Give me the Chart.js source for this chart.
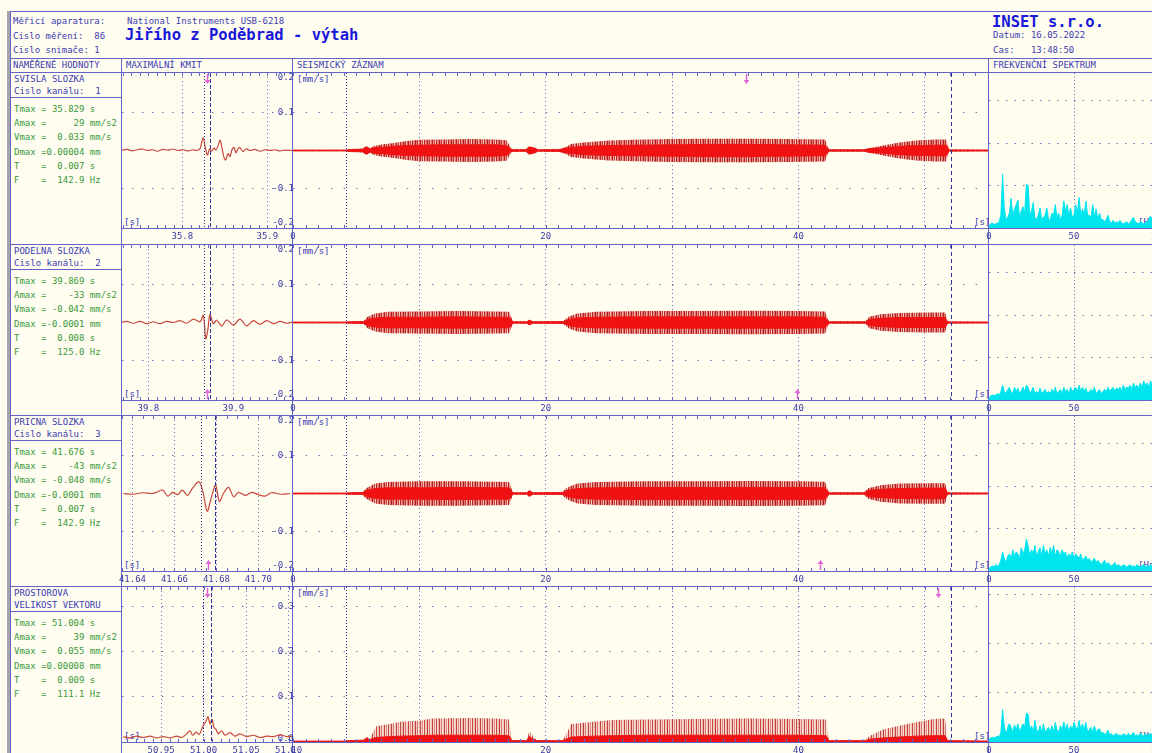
<!DOCTYPE html>
<html>
<head>
<meta charset="utf-8">
<script src="https://cdn.jsdelivr.net/npm/chart.js"></script>
<style>
html, body { margin: 0; padding: 0; background: #fffcf0; overflow: hidden; width: 1152px; height: 753px; }
#page { position: relative; width: 1152px; height: 753px; font-family: "DejaVu Sans Mono", monospace; font-size: 9px; }
.t { position: absolute; white-space: pre; line-height: 10px; color: #3c3cb0; }
.g { color: #3a9a3a; }
.big { font-size: 15.5px; line-height: 18px; font-weight: bold; color: #1818d8; }
.ln { position: absolute; background: #6464c8; }
canvas { position: absolute; }
</style>
</head>
<body>
<div id="page"></div>
<script>
var rowTitles = [['SVISLA SLOZKA', 'Cislo kanálu:  1'], ['PODELNA SLOZKA', 'Cislo kanálu:  2'], ['PRICNA SLOZKA', 'Cislo kanálu:  3'], ['PROSTOROVA', 'VELIKOST VEKTORU']];
var rowValues = [
    ['Tmax = 35.829 s', 'Amax =     29 mm/s2', 'Vmax =  0.033 mm/s', 'Dmax =0.00004 mm', 'T    =  0.007 s', 'F    =  142.9 Hz'],
    ['Tmax = 39.869 s', 'Amax =    -33 mm/s2', 'Vmax = -0.042 mm/s', 'Dmax =-0.0001 mm', 'T    =  0.008 s', 'F    =  125.0 Hz'],
    ['Tmax = 41.676 s', 'Amax =    -43 mm/s2', 'Vmax = -0.048 mm/s', 'Dmax =-0.0001 mm', 'T    =  0.007 s', 'F    =  142.9 Hz'],
    ['Tmax = 51.004 s', 'Amax =     39 mm/s2', 'Vmax =  0.055 mm/s', 'Dmax =0.00008 mm', 'T    =  0.009 s', 'F    =  111.1 Hz']
];
var tmax = [35.829, 39.869, 41.676, 51.004];
var period = [0.007, 0.008, 0.007, 0.009];
var arrowDown = [true, false, false, true];

var kmitMin = [35.729, 39.769, 41.635, 50.904];
var kmitMax = [35.929, 39.969, 41.716, 51.104];
var kmitMinor = [0.01, 0.01, 0.005, 0.01];
var kmitTicks = [[35.8, 35.9], [39.8, 39.9], [41.64, 41.66, 41.68, 41.70], [50.95, 51.00, 51.05, 51.10]];
var kmitTickLabels = [['35.8', '35.9'], ['39.8', '39.9'], ['41.64', '41.66', '41.68', '41.70'], ['50.95', '51.00', '51.05', '51.10']];
var ampTicks = [-0.2, -0.1, 0, 0.1, 0.2];
var ampTickLabels = [['-0.2', ''], '-0.1', '', '0.1', ['', '0.2']];
var vecTicks = [0, 0.1, 0.2, 0.3];
var vecTickLabels = [['0.0', ''], '0.1', '0.2', '0.3'];

var timeTicks = [0, 10, 20, 30, 40, 50];
var timeTickLabels = ['0', '', '20', '', '40', ''];
var recStart = 4.23;
var recEnd = 52.07;
var freqTicks = [0, 50, 100];
var freqTickLabels = ['0', '50', '100'];

// maximal oscillation windows [t, v]
var kmit1 = [[35.729,0.001],[35.735,0.003],[35.741,-0.001],[35.747,0.002],[35.753,0.004],[35.759,0.000],[35.765,0.002],[35.771,-0.002],[35.777,0.003],[35.783,0.001],[35.789,0.004],[35.795,0.000],[35.801,0.002],[35.807,-0.001],[35.812,0.002],[35.817,0.000],[35.821,0.006],[35.8243,0.034],[35.827,0.008],[35.8295,-0.012],[35.832,0.004],[35.8345,-0.002],[35.837,0.006],[35.8395,0.002],[35.842,0.012],[35.8445,0.027],[35.8468,0.004],[35.849,-0.018],[35.851,-0.025],[35.8537,-0.008],[35.856,-0.016],[35.8584,0.002],[35.8608,0.008],[35.8631,-0.006],[35.8655,0.005],[35.8678,0.007],[35.8714,-0.003],[35.8749,0.004],[35.8796,0.000],[35.8855,0.003],[35.8914,-0.002],[35.8972,0.002],[35.9031,0.000],[35.909,0.002],[35.9149,-0.001],[35.9208,0.001],[35.929,0.000]];
var kmit2 = [[39.769,0.001],[39.7745,0.003],[39.7824,-0.002],[39.7902,0.003],[39.798,-0.003],[39.8059,0.002],[39.8137,-0.003],[39.8216,0.003],[39.8294,0.000],[39.8373,0.005],[39.8451,-0.002],[39.8529,0.009],[39.8608,0.002],[39.8647,0.019],[39.8675,-0.043],[39.8702,-0.016],[39.8725,0.021],[39.8764,-0.003],[39.8804,0.006],[39.8863,-0.009],[39.8922,0.007],[39.900,-0.007],[39.9078,0.009],[39.9157,-0.009],[39.9235,0.005],[39.9314,-0.005],[39.9392,0.005],[39.9471,-0.003],[39.955,0.003],[39.9628,-0.002],[39.969,0.001]];
var kmit3 = [[41.6356,0.000],[41.6403,-0.002],[41.645,0.002],[41.649,0.000],[41.6513,0.003],[41.6544,0.009],[41.6568,-0.007],[41.6591,0.003],[41.6615,-0.003],[41.6638,0.009],[41.6662,-0.005],[41.6686,0.014],[41.6717,0.031],[41.6736,0.003],[41.6756,-0.047],[41.6775,-0.012],[41.6796,0.022],[41.6814,-0.021],[41.6835,0.002],[41.6858,0.016],[41.6882,-0.009],[41.6905,0.003],[41.6937,-0.005],[41.6968,0.003],[41.6999,-0.003],[41.7031,-0.007],[41.7062,0.002],[41.7109,-0.002],[41.715,0.000]];
var kmit4 = [[50.9055,0.012],[50.9134,0.009],[50.9213,0.013],[50.9291,0.010],[50.937,0.013],[50.9448,0.009],[50.9526,0.012],[50.9605,0.009],[50.9684,0.013],[50.9742,0.010],[50.9801,0.018],[50.984,0.025],[50.9872,0.015],[50.9911,0.022],[50.995,0.017],[50.9989,0.034],[51.0028,0.046],[51.0052,0.056],[51.0075,0.040],[51.0099,0.050],[51.0122,0.032],[51.0146,0.028],[51.0173,0.018],[51.0213,0.025],[51.0252,0.015],[51.0311,0.021],[51.0369,0.013],[51.0428,0.018],[51.0507,0.012],[51.0585,0.015],[51.0664,0.010],[51.0742,0.013],[51.0821,0.012],[51.0899,0.016],[51.0978,0.012],[51.104,0.013]];

// seismic record envelopes: time [s], outer amplitude, core amplitude [mm/s]
var seisT1 =    [0, 4.2, 4.4, 5.5, 5.8, 6.1, 6.4, 7, 8, 9, 10, 12, 14, 16, 16.9, 17.3, 18.4, 18.7, 19.1, 19.4, 21.1, 21.5, 22, 23, 25, 27, 30, 33, 36, 39, 42.1, 42.4, 45.2, 45.6, 46.7, 48, 49.3, 50.9, 51.7, 51.9, 55];
var seisOut1 =  [0.002, 0.002, 0.004, 0.005, 0.012, 0.006, 0.012, 0.016, 0.020, 0.025, 0.028, 0.029, 0.030, 0.029, 0.027, 0.004, 0.003, 0.011, 0.008, 0.003, 0.004, 0.008, 0.017, 0.021, 0.026, 0.028, 0.030, 0.031, 0.031, 0.030, 0.029, 0.003, 0.003, 0.006, 0.013, 0.021, 0.026, 0.029, 0.029, 0.003, 0.002];
var seisCore1 = [0.0008, 0.0008, 0.002, 0.003, 0.009, 0.004, 0.007, 0.008, 0.011, 0.013, 0.014, 0.015, 0.015, 0.015, 0.013, 0.002, 0.0015, 0.009, 0.006, 0.0015, 0.002, 0.006, 0.008, 0.011, 0.013, 0.014, 0.015, 0.016, 0.016, 0.015, 0.014, 0.0015, 0.0015, 0.005, 0.007, 0.011, 0.013, 0.014, 0.014, 0.001, 0.001];

var seisT2 =    [0, 4.2, 4.4, 5.6, 5.9, 6.5, 7.5, 10, 13, 16, 17.1, 17.4, 18.5, 18.7, 19.0, 21.4, 21.8, 22.5, 24, 28, 32, 36, 40, 42.1, 42.4, 45.3, 45.6, 46.5, 48, 50, 51.6, 51.8, 55];
var seisOut2 =  [0.002, 0.002, 0.003, 0.004, 0.015, 0.024, 0.028, 0.029, 0.030, 0.029, 0.028, 0.003, 0.003, 0.007, 0.003, 0.004, 0.015, 0.024, 0.028, 0.030, 0.030, 0.031, 0.030, 0.029, 0.003, 0.003, 0.015, 0.022, 0.025, 0.026, 0.026, 0.003, 0.002];
var seisCore2 = [0.0008, 0.0008, 0.0015, 0.002, 0.008, 0.012, 0.014, 0.014, 0.015, 0.014, 0.014, 0.0015, 0.0015, 0.006, 0.0015, 0.002, 0.008, 0.012, 0.014, 0.015, 0.015, 0.015, 0.015, 0.014, 0.0015, 0.0015, 0.008, 0.011, 0.013, 0.013, 0.013, 0.001, 0.001];

var seisT3 =    [0, 4.2, 4.4, 5.5, 5.8, 6.5, 7.5, 10, 13, 16, 17.1, 17.4, 18.5, 18.7, 19.0, 21.3, 21.7, 22.5, 24, 28, 32, 36, 40, 42.1, 42.4, 45.2, 45.5, 46.5, 48, 50, 51.6, 51.8, 55];
var seisOut3 =  [0.002, 0.002, 0.003, 0.004, 0.014, 0.026, 0.030, 0.032, 0.032, 0.031, 0.030, 0.003, 0.003, 0.009, 0.003, 0.004, 0.016, 0.026, 0.030, 0.032, 0.032, 0.033, 0.032, 0.031, 0.003, 0.003, 0.014, 0.022, 0.026, 0.027, 0.027, 0.003, 0.002];
var seisCore3 = [0.0008, 0.0008, 0.0015, 0.002, 0.008, 0.013, 0.015, 0.015, 0.016, 0.015, 0.015, 0.0015, 0.0015, 0.007, 0.0015, 0.002, 0.008, 0.013, 0.015, 0.016, 0.016, 0.016, 0.016, 0.015, 0.0015, 0.0015, 0.008, 0.011, 0.013, 0.014, 0.014, 0.001, 0.001];

var seisT4 =    [0, 4.2, 4.4, 5.6, 5.8, 6.1, 6.3, 6.6, 7.7, 8.5, 10, 11, 14, 16, 17.1, 17.3, 18.5, 18.7, 19.0, 19.3, 21.3, 21.6, 22, 23.8, 25.3, 28, 32, 36, 40, 42.2, 42.4, 45.3, 45.6, 46.7, 48, 49.3, 50.7, 51.6, 51.8, 55];
var seisOut4 =  [0.002, 0.002, 0.004, 0.005, 0.012, 0.008, 0.020, 0.035, 0.040, 0.045, 0.047, 0.052, 0.053, 0.052, 0.050, 0.004, 0.004, 0.024, 0.012, 0.004, 0.004, 0.015, 0.040, 0.045, 0.049, 0.050, 0.051, 0.052, 0.051, 0.050, 0.004, 0.004, 0.013, 0.028, 0.036, 0.044, 0.051, 0.052, 0.004, 0.002];
var seisCore4 = [0.002, 0.002, 0.003, 0.004, 0.008, 0.005, 0.008, 0.010, 0.012, 0.013, 0.014, 0.015, 0.015, 0.015, 0.014, 0.003, 0.003, 0.012, 0.006, 0.003, 0.003, 0.006, 0.011, 0.013, 0.014, 0.015, 0.015, 0.015, 0.015, 0.014, 0.003, 0.003, 0.006, 0.009, 0.011, 0.013, 0.014, 0.014, 0.003, 0.002];

// frequency spectra, 1 Hz steps from 0 Hz (relative units = grid divisions)
var spec1 = [0.05,0.10,0.12,0.08,0.10,0.12,0.15,0.30,1.27,0.45,0.20,0.25,0.35,0.70,0.30,0.45,0.55,0.66,0.25,0.40,0.50,0.35,1.03,1.00,0.30,0.40,0.60,0.25,0.20,0.30,0.47,0.20,0.25,0.30,0.47,0.20,0.18,0.35,0.30,0.55,0.25,0.35,0.20,0.30,0.64,0.40,0.55,0.30,0.47,0.25,0.30,0.55,0.35,0.72,0.30,0.45,0.30,0.63,0.30,0.30,0.25,0.55,0.25,0.45,0.20,0.35,0.20,0.20,0.15,0.20,0.30,0.15,0.12,0.18,0.12,0.15,0.12,0.18,0.12,0.10,0.12,0.15,0.10,0.12,0.20,0.25,0.15,0.12,0.10,0.15,0.12,0.10,0.12,0.15,0.20,0.28,0.20,0.15,0.20,0.15,0.20];
var spec2 = [0.05,0.10,0.12,0.10,0.12,0.15,0.12,0.20,0.35,0.20,0.15,0.25,0.30,0.20,0.15,0.30,0.20,0.28,0.15,0.22,0.30,0.20,0.35,0.30,0.15,0.22,0.30,0.15,0.20,0.15,0.28,0.15,0.20,0.25,0.15,0.20,0.15,0.25,0.18,0.30,0.15,0.20,0.25,0.15,0.30,0.20,0.25,0.15,0.30,0.20,0.25,0.30,0.20,0.35,0.20,0.30,0.20,0.28,0.15,0.20,0.25,0.20,0.30,0.15,0.20,0.25,0.15,0.20,0.25,0.20,0.30,0.22,0.25,0.30,0.20,0.28,0.25,0.30,0.22,0.35,0.25,0.30,0.28,0.35,0.25,0.40,0.30,0.35,0.28,0.40,0.30,0.45,0.35,0.40,0.30,0.45,0.35,0.50,0.40,0.45,0.40];
var spec3 = [0.05,0.10,0.12,0.10,0.15,0.12,0.15,0.25,0.45,0.30,0.20,0.35,0.40,0.30,0.50,0.35,0.45,0.40,0.30,0.55,0.40,0.50,0.75,0.60,0.35,0.50,0.40,0.60,0.35,0.45,0.55,0.35,0.60,0.40,0.50,0.35,0.55,0.40,0.60,0.35,0.50,0.45,0.35,0.50,0.40,0.45,0.30,0.40,0.35,0.45,0.30,0.40,0.35,0.30,0.40,0.25,0.30,0.35,0.25,0.30,0.20,0.25,0.30,0.20,0.25,0.20,0.15,0.20,0.25,0.15,0.20,0.15,0.12,0.15,0.20,0.12,0.15,0.12,0.10,0.15,0.12,0.10,0.12,0.15,0.10,0.12,0.10,0.15,0.12,0.10,0.12,0.15,0.10,0.12,0.10,0.15,0.12,0.10,0.12,0.10,0.12];
var spec4 = [0.05,0.08,0.10,0.08,0.10,0.12,0.10,0.20,0.66,0.30,0.15,0.30,0.37,0.30,0.20,0.35,0.25,0.37,0.20,0.30,0.37,0.30,0.59,0.57,0.25,0.33,0.20,0.44,0.25,0.20,0.33,0.20,0.37,0.20,0.25,0.30,0.20,0.33,0.20,0.40,0.25,0.20,0.33,0.25,0.41,0.25,0.37,0.20,0.33,0.25,0.40,0.30,0.25,0.44,0.25,0.37,0.25,0.40,0.20,0.25,0.30,0.20,0.33,0.20,0.25,0.27,0.18,0.20,0.15,0.18,0.24,0.15,0.17,0.12,0.15,0.18,0.12,0.15,0.12,0.17,0.15,0.12,0.18,0.12,0.15,0.20,0.12,0.15,0.12,0.18,0.15,0.12,0.17,0.13,0.15,0.18,0.12,0.15,0.17,0.12,0.15];
var specMax = [3.65, 3.65, 3.65, 3.16];
var specGrid = [1, 2, 3];

// ---- layout ----
var rowTop = [72, 244, 415, 586];
var rowAxis = [228, 400, 571, 742];
var NAVY = '#3a3aa6';
var GRID = '#7070bc';
var FRAME = '#6464c8';
var RED = '#f01212';
var KMIT = '#c8483c';
var CYAN = '#00e4ee';
var PINK = '#e066d8';

var page = document.getElementById('page');

function text(x, y, s, cls) {
    var d = document.createElement('div');
    d.className = 't' + (cls ? ' ' + cls : '');
    d.style.left = x + 'px';
    d.style.top = y + 'px';
    d.textContent = s;
    page.appendChild(d);
}
function line(x, y, w, h, col) {
    var d = document.createElement('div');
    d.className = 'ln';
    d.style.left = x + 'px'; d.style.top = y + 'px';
    d.style.width = w + 'px'; d.style.height = h + 'px';
    if (col) d.style.background = col;
    page.appendChild(d);
}

// frame
line(7, 11, 2.5, 742, '#a4a4ac');
line(10, 11, 1, 742);
line(10, 11, 1142, 1);
line(10, 58, 1142, 1);
line(10, 72, 1142, 1);
line(121, 58, 1, 695);
line(292, 58, 1, 695);
line(988, 58, 1, 695);
for (var r = 0; r < 4; r++) {
    if (r > 0) line(10, rowTop[r], 1142, 1);
    line(121, rowAxis[r], 1031, 1);
    line(10, rowTop[r] + 25, 111, 1);
}

// header
text(13, 16, 'Měřicí aparatura:');
text(13, 31, 'Cislo měření:  86');
text(13, 45, 'Cislo snimače: 1');
text(127, 16, 'National Instruments USB-6218');
text(125, 26, 'Jiřího z Poděbrad - výtah', 'big');
text(992, 13, 'INSET s.r.o.', 'big');
text(993, 30, 'Datum: 16.05.2022');
text(993, 45, 'Cas:   13:48:50');
text(13, 60, 'NAMĚŘENÉ HODNOTY');
text(126, 60, 'MAXIMÁLNÍ KMIT');
text(297, 60, 'SEISMICKÝ ZÁZNAM');
text(993, 60, 'FREKVENČNÍ SPEKTRUM');

for (var r = 0; r < 4; r++) {
    var R = rowTop[r];
    text(14, R + 2, rowTitles[r][0]);
    text(14, R + 14, rowTitles[r][1]);
    for (var i = 0; i < 6; i++) text(14, Math.round(R + 32 + 14.2 * i), rowValues[r][i], 'g');
    text(124, rowAxis[r] - 11, '[s]');
    text(297, R + 2, '[mm/s]');
    text(974, rowAxis[r] - 11, '[s]');
    text(1138, rowAxis[r] - 11, '[Hz]');
}

// ---- charts ----
function zeroPad(s) { s.paddingLeft = 0; s.paddingRight = 0; s.paddingTop = 0; s.paddingBottom = 0; }

function xAxis(min, max, ticks, labels, dash, gridOn) {
    return {
        type: 'linear', position: 'bottom', min: min, max: max,
        afterBuildTicks: function(s) { s.ticks = ticks.map(function(v) { return {value: v}; }); },
        afterFit: function(s) { zeroPad(s); s.height = 14; },
        ticks: { autoSkip: false, maxRotation: 0, padding: 3, color: NAVY,
                 font: { family: 'DejaVu Sans Mono', size: 9 },
                 callback: function(v, i) { return labels[i]; } },
        grid: { drawTicks: false, lineWidth: 1,
                color: function(c) { return gridOn(c.tick ? c.tick.value : undefined) ? GRID : 'rgba(0,0,0,0)'; } },
        border: { display: false, dash: dash }
    };
}
function yAxis(min, max, ticks, labels, dash, gridOn, show) {
    return {
        type: 'linear', position: 'right', min: min, max: max,
        afterBuildTicks: function(s) { s.ticks = ticks.map(function(v) { return {value: v}; }); },
        afterFit: function(s) { zeroPad(s); s.width = 0; },
        ticks: { display: show, mirror: true, padding: 2, color: NAVY,
                 font: { family: 'DejaVu Sans Mono', size: 9, lineHeight: 0.75 },
                 callback: function(v, i) { return labels[i]; } },
        grid: { drawTicks: false, lineWidth: 1,
                color: function(c) { return gridOn(c.tick ? c.tick.value : undefined) ? GRID : 'rgba(0,0,0,0)'; } },
        border: { display: false, dash: dash }
    };
}

// marker lines at Tmax, pink arrows and small inward ticks along the time axis
function markers(lines, arrows, minorStep) {
    return {
        id: 'markers',
        afterDatasetsDraw: function(chart) {
            var ctx = chart.ctx, xs = chart.scales.x, a = chart.chartArea;
            ctx.save();
            if (minorStep) {
                ctx.strokeStyle = FRAME; ctx.lineWidth = 1;
                ctx.beginPath();
                var n0 = Math.ceil(xs.min / minorStep - 1e-6), n1 = Math.floor(xs.max / minorStep + 1e-6);
                for (var n = n0; n <= n1; n++) {
                    var p = Math.round(xs.getPixelForValue(n * minorStep)) + 0.5;
                    ctx.moveTo(p, a.top); ctx.lineTo(p, a.top + 3);
                    ctx.moveTo(p, a.bottom); ctx.lineTo(p, a.bottom - 3);
                }
                ctx.stroke();
            }
            lines.forEach(function(m) {
                var px = Math.round(xs.getPixelForValue(m.x)) + 0.5;
                ctx.strokeStyle = m.color; ctx.lineWidth = 1; ctx.setLineDash(m.dash);
                ctx.beginPath(); ctx.moveTo(px, a.top); ctx.lineTo(px, a.bottom); ctx.stroke();
            });
            ctx.setLineDash([]);
            arrows.forEach(function(m) {
                var px = Math.round(xs.getPixelForValue(m.x)) + 0.5;
                var y0 = m.down ? a.top + 1 : a.bottom - 1;
                var s = m.down ? 1 : -1;
                ctx.strokeStyle = PINK; ctx.fillStyle = PINK; ctx.lineWidth = 1.5;
                ctx.beginPath();
                ctx.moveTo(px, y0); ctx.lineTo(px, y0 + s * 8);
                ctx.stroke();
                ctx.beginPath();
                ctx.moveTo(px - 3, y0 + s * 6); ctx.lineTo(px + 3, y0 + s * 6); ctx.lineTo(px, y0 + s * 10);
                ctx.closePath(); ctx.fill();
            });
            ctx.restore();
        }
    };
}

function makeCanvas(left, top, w, h) {
    var c = document.createElement('canvas');
    c.width = w; c.height = h;
    c.style.left = left + 'px'; c.style.top = top + 'px';
    c.style.width = w + 'px'; c.style.height = h + 'px';
    page.appendChild(c);
    return c;
}

function baseOptions(pad, xs, ys) {
    return {
        responsive: false, animation: false, devicePixelRatio: 1,
        layout: { padding: pad },
        plugins: { legend: { display: false }, tooltip: { enabled: false } },
        elements: { point: { radius: 0 } },
        scales: { x: xs, y: ys }
    };
}

function pts(arr) { return arr.map(function(p) { return {x: p[0], y: p[1]}; }); }
function env(T, A, sign) { return T.map(function(t, i) { return {x: t, y: sign * A[i]}; }); }

// striped fills imitating the dense oscillation spikes
function makeStripe(cols) {
    var sc = document.createElement('canvas');
    sc.width = cols.length; sc.height = 1;
    var sctx = sc.getContext('2d');
    cols.forEach(function(col, i) { sctx.fillStyle = col; sctx.fillRect(i, 0, 1, 1); });
    return sctx.createPattern(sc, 'repeat');
}
var stripe = makeStripe(['rgba(165,18,18,0.95)', 'rgba(220,70,65,0.7)', 'rgba(185,28,28,0.9)', 'rgba(230,120,110,0.55)',
                         'rgba(215,60,55,0.75)', 'rgba(170,20,20,0.95)', 'rgba(225,95,90,0.65)', 'rgba(195,35,35,0.85)',
                         'rgba(235,140,130,0.5)', 'rgba(175,22,22,0.95)', 'rgba(225,90,85,0.65)', 'rgba(215,65,60,0.75)']);
var stripeLight = makeStripe(['rgba(175,30,30,0.85)', 'rgba(235,150,140,0.45)', 'rgba(200,60,55,0.7)', 'rgba(240,180,170,0.4)',
                              'rgba(230,140,130,0.45)', 'rgba(180,35,35,0.85)', 'rgba(235,160,150,0.45)', 'rgba(210,80,75,0.65)',
                              'rgba(240,185,175,0.4)', 'rgba(185,40,40,0.85)', 'rgba(235,155,145,0.45)', 'rgba(225,120,110,0.5)']);

var kmitData = [kmit1, kmit2, kmit3, kmit4];
var seisT = [seisT1, seisT2, seisT3, seisT4];
var seisOut = [seisOut1, seisOut2, seisOut3, seisOut4];
var seisCore = [seisCore1, seisCore2, seisCore3, seisCore4];
var specData = [spec1, spec2, spec3, spec4];

function buildRow(r) {
    var top = rowTop[r] + 1;
    var ah = rowAxis[r] - top;
    var isVec = (r === 3);
    var yMin = isVec ? 0 : -0.204;
    var yMax = isVec ? 0.344 : 0.204;
    var yT = isVec ? vecTicks : ampTicks;
    var yL = isVec ? vecTickLabels : ampTickLabels;
    var yGrid = isVec
        ? function(v) { return v !== undefined && v > 0.05; }
        : function(v) { return v !== undefined && Math.abs(Math.abs(v) - 0.1) < 0.01; };

    // maximal oscillation
    var c1 = makeCanvas(112, top - 8, 190, ah + 8 + 16);
    new Chart(c1, {
        type: 'line',
        data: { datasets: [{ data: pts(kmitData[r]), borderColor: KMIT, borderWidth: 1.2, tension: 0.3, fill: false, pointRadius: 0 }] },
        options: baseOptions({left: 10, right: 10, top: 8, bottom: 2},
            xAxis(kmitMin[r], kmitMax[r], kmitTicks[r], kmitTickLabels[r], [1, 3], function(v) { return true; }),
            yAxis(yMin, yMax, yT, yL, [1.5, 8.5], yGrid, true)),
        plugins: [markers([
            {x: tmax[r] - period[r] / 2, dash: [1, 2], color: '#30309a'},
            {x: tmax[r] + period[r] / 2, dash: [4, 2], color: '#30309a'}
        ], [{x: tmax[r], down: arrowDown[r]}], kmitMinor[r])]
    });

    // seismic record
    var T = seisT[r];
    var ds;
    if (isVec) {
        ds = [
            { data: env(T, seisCore[r], 1), borderColor: RED, borderWidth: 1, fill: 'origin', backgroundColor: RED, tension: 0, pointRadius: 0 },
            { data: env(T, seisOut[r], 1), borderColor: 'rgba(0,0,0,0)', borderWidth: 0, fill: 'origin', backgroundColor: stripeLight, tension: 0, pointRadius: 0 }
        ];
    } else {
        ds = [
            { data: env(T, seisCore[r], 1), borderColor: RED, borderWidth: 1, fill: false, tension: 0, pointRadius: 0 },
            { data: env(T, seisCore[r], -1), borderColor: RED, borderWidth: 1, fill: '-1', backgroundColor: RED, tension: 0, pointRadius: 0 },
            { data: env(T, seisOut[r], 1), borderColor: 'rgba(0,0,0,0)', borderWidth: 0, fill: false, tension: 0, pointRadius: 0 },
            { data: env(T, seisOut[r], -1), borderColor: 'rgba(0,0,0,0)', borderWidth: 0, fill: '-1', backgroundColor: stripe, tension: 0, pointRadius: 0 }
        ];
    }
    var c2 = makeCanvas(283, top - 8, 710, ah + 8 + 16);
    new Chart(c2, {
        type: 'line',
        data: { datasets: ds },
        options: baseOptions({left: 10, right: 5, top: 8, bottom: 2},
            xAxis(0, 55, timeTicks, timeTickLabels, [1, 3], function(v) { return v > 0; }),
            yAxis(yMin, yMax, yT, yL, [1.5, 11.14], yGrid, false)),
        plugins: [markers([
            {x: recStart, dash: [1, 2], color: '#30309a'},
            {x: recEnd, dash: [4, 3], color: '#30309a'}
        ], [{x: tmax[r], down: arrowDown[r]}], 1)]
    });

    // spectrum
    var sp = specData[r].map(function(v, i) { return {x: i, y: v}; });
    var c3 = makeCanvas(979, top - 8, 190, ah + 8 + 16);
    new Chart(c3, {
        type: 'line',
        data: { datasets: [{ data: sp, borderColor: CYAN, borderWidth: 1, fill: 'origin', backgroundColor: CYAN, tension: 0, pointRadius: 0 }] },
        options: baseOptions({left: 10, right: 10, top: 8, bottom: 2},
            xAxis(0, 100, freqTicks, freqTickLabels, [1, 2.5], function(v) { return v === 50; }),
            yAxis(0, specMax[r], specGrid, ['', '', ''], [1.5, 7], function(v) { return v !== undefined && v > 0; }, false))
    });
}

Chart.defaults.font.family = 'DejaVu Sans Mono';
Chart.defaults.font.size = 9;
for (var r = 0; r < 4; r++) buildRow(r);
</script>
</body>
</html>
